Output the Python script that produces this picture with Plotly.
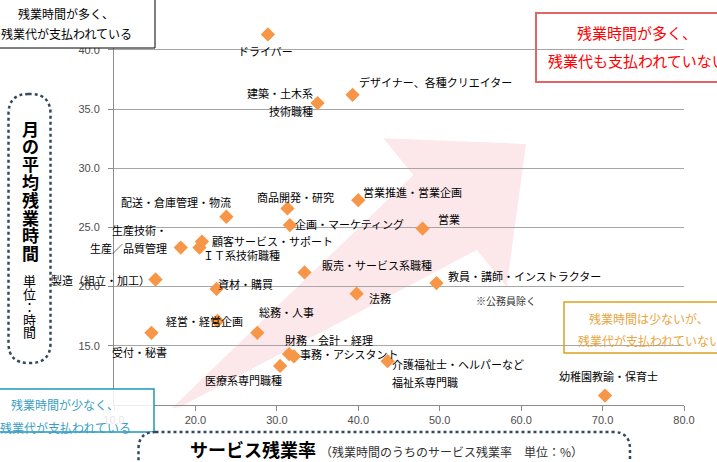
import plotly.graph_objects as go

# サービス残業率 (%) / 月の平均残業時間 (時間)
jobs = ['ドライバー', '建築・土木系<br>技術職種', 'デザイナー、各種クリエイター',
        '営業推進・営業企画', '商品開発・研究', '配送・倉庫管理・物流',
        '企画・マーケティング', '営業', '顧客サービス・サポート', 'ＩＴ系技術職種',
        '生産技術・<br>生産／品質管理', '販売・サービス系職種', '製造（組立・加工）',
        '教員・講師・インストラクター', '資材・購買', '法務', '経営・経営企画',
        '受付・秘書', '総務・人事', '財務・会計・経理', '事務・アシスタント',
        '介護福祉士・ヘルパーなど<br>福祉系専門職', '医療系専門職種', '幼稚園教諭・保育士']
service_rate = [28.9, 35.0, 39.3, 40.0, 31.3, 23.8, 31.6, 47.9, 20.8, 20.5,
                18.2, 33.4, 15.1, 49.6, 22.6, 39.8, 22.7, 14.6, 27.6, 31.5,
                32.1, 43.6, 30.4, 70.3]
overtime_hours = [41.3, 35.5, 36.2, 27.3, 26.6, 25.9, 25.2, 24.9, 23.8, 23.3,
                  23.3, 21.2, 20.6, 20.3, 19.8, 19.4, 17.1, 16.1, 16.1, 14.3,
                  14.1, 13.7, 13.3, 10.8]
x_ticks = [10, 20, 30, 40, 50, 60, 70, 80]
y_ticks = [15, 20, 25, 30, 35, 40]

# label placement relative to each diamond: anchor, x shift, y shift (pixels)
label_pos = [('center', -2, -17), ('right', -3, 1), ('left', 4, 13),
             ('left', 3, 8), ('center', 8, 11), ('right', 7, 15),
             ('left', 3, 1), ('left', 13, 10), ('left', 8, 1), ('left', 1, -7),
             ('right', -12, 9), ('left', 15, 7), ('right', -4, 0),
             ('left', 10, 7), ('left', -1, 5), ('left', 10, -4), ('center', -13, 0),
             ('left', -41, -19), ('left', 0, 21), ('left', -6, 14), ('left', 4, 2),
             ('left', 2, -12), ('right', 4, -14), ('center', 3, 20)]

W, H = 717, 462
ML, MR, MT, MB = 114, 33, 0, 57
PW, PH = W - ML - MR, H - MT - MB
JP = 'Noto Sans CJK JP'


def px(x):
    return (x - ML) / PW


def py(y):
    return (MT + PH - y) / PH


def rounded_rect(x0, y0, x1, y1, r):
    pts = [('M', [(x0 + r, y0)]), ('L', [(x1 - r, y0)]), ('Q', [(x1, y0), (x1, y0 + r)]),
           ('L', [(x1, y1 - r)]), ('Q', [(x1, y1), (x1 - r, y1)]), ('L', [(x0 + r, y1)]),
           ('Q', [(x0, y1), (x0, y1 - r)]), ('L', [(x0, y0 + r)]), ('Q', [(x0, y0), (x0 + r, y0)])]
    s = ''
    for cmd, ps in pts:
        s += cmd + ' ' + ' '.join('%.5f,%.5f' % (px(a), py(b)) for a, b in ps) + ' '
    return s + 'Z'


def polygon(points):
    return 'M ' + ' L '.join('%.5f,%.5f' % (px(a), py(b)) for a, b in points) + ' Z'


fig = go.Figure()
fig.add_trace(go.Scatter(x=service_rate, y=overtime_hours, mode='markers',
                         marker=dict(symbol='diamond', size=11, color='#F79646', line=dict(width=0)),
                         hovertext=jobs, showlegend=False))

annotations = []
for name, xv, yv, (anchor, dx, dy) in zip(jobs, service_rate, overtime_hours, label_pos):
    lines = name.split('<br>')
    n = len(lines)
    for i, line in enumerate(lines):
        annotations.append(dict(x=xv, y=yv, xref='x', yref='y', text=line, showarrow=False,
                                xanchor=anchor, yanchor='middle',
                                xshift=dx, yshift=dy + (n - 1) * 9 - i * 18,
                                font=dict(family=JP, size=11, color='black')))


def paper_text(text, x, y, size, color, xanchor='center'):
    annotations.append(dict(x=px(x), y=py(y), xref='paper', yref='paper', text=text,
                            showarrow=False, xanchor=xanchor, yanchor='middle',
                            font=dict(family=JP, size=size, color=color)))


def box_text(lines, cx, ys, size, color):
    for line, yy in zip(lines, ys):
        paper_text(line, cx, yy, size, color)


box_text(['残業時間が多く、', '残業代が支払われている'], 66, [13, 34], 12, 'black')
box_text(['残業時間が多く、', '残業代も支払われていない'], 637, [32, 61], 15, '#FF0000')
box_text(['残業時間は少ないが、', '残業代が支払われていない'], 649, [318, 340], 12, '#E8A540')
box_text(['残業時間が少なく、', '残業代が支払われている'], 65, [404, 428], 12, '#3A9EC4')

# vertical y-axis title
for i, ch in enumerate('月の平均残業時間'):
    paper_text('<b>%s</b>' % ch, 30, 128 + i * 17.8, 17, 'black')
for i, ch in enumerate('単位：時間'):
    paper_text(ch, 29, 281 + i * 12.7, 13, 'black')

paper_text('<b>サービス残業率</b> <span style="font-size:12px;color:#333333">'
           '（残業時間のうちのサービス残業率　単位：%）</span>', 188, 449, 18, 'black', 'left')
paper_text('※公務員除く', 506, 301, 10, '#333333')

arrow = [(171.7, 408.3), (413.3, 175), (383.3, 138.3), (526, 144),
         (506.7, 286.7), (476.7, 250), (180, 407)]

shapes = [
    dict(type='path', xref='paper', yref='paper', path=polygon(arrow),
         fillcolor='#FCE8EA', line=dict(width=0), layer='below'),
    dict(type='rect', xref='paper', yref='paper', x0=px(-30), x1=px(155), y0=py(-5), y1=py(48),
         fillcolor='white', line=dict(color='black', width=1), layer='above'),
    dict(type='rect', xref='paper', yref='paper', x0=px(536), x1=px(745), y0=py(13), y1=py(82),
         fillcolor='rgba(0,0,0,0)', line=dict(color='#E06666', width=2), layer='above'),
    dict(type='rect', xref='paper', yref='paper', x0=px(564), x1=px(745), y0=py(302), y1=py(353),
         fillcolor='rgba(0,0,0,0)', line=dict(color='#DDA11E', width=1.5), layer='above'),
    dict(type='rect', xref='paper', yref='paper', x0=px(-30), x1=px(154), y0=py(389), y1=py(432),
         fillcolor='rgba(255,255,255,0.85)', line=dict(color='#1E96BC', width=1.5), layer='above'),
    dict(type='path', xref='paper', yref='paper', path=rounded_rect(8.5, 94, 50.5, 363, 20),
         fillcolor='rgba(0,0,0,0)', line=dict(color='#34495E', width=2.5, dash='dot'), layer='above'),
    dict(type='path', xref='paper', yref='paper', path=rounded_rect(138.5, 432, 630, 495, 17),
         fillcolor='white', line=dict(color='#34495E', width=2.5, dash='dot'), layer='above'),
]

fig.update_layout(
    width=W, height=H,
    margin=dict(l=ML, r=MR, t=MT, b=MB),
    paper_bgcolor='white', plot_bgcolor='white',
    annotations=annotations, shapes=shapes,
    showlegend=False,
)
fig.update_xaxes(range=[10, 80], tickvals=x_ticks, tickformat='.1f', showgrid=False,
                 showline=True, linecolor='#8C8C8C', ticks='outside', ticklen=5,
                 tickcolor='#8C8C8C', zeroline=False,
                 tickfont=dict(family='Liberation Sans', size=11, color='#4D4D4D'))
fig.update_yaxes(range=[10, 10 + PH / 11.84], tickvals=y_ticks, tickformat='.1f',
                 showgrid=True, gridcolor='#A6A6A6', gridwidth=1,
                 showline=True, linecolor='#8C8C8C', ticks='outside', ticklen=5,
                 tickcolor='#8C8C8C', zeroline=False, ticklabelstandoff=6,
                 tickfont=dict(family='Liberation Sans', size=11, color='#4D4D4D'))

# the page body has a default margin; drop it so the figure sits at the window corner
fig.write_html('out.html', config={'displayModeBar': False},
               post_script="document.body.style.margin='0';")
